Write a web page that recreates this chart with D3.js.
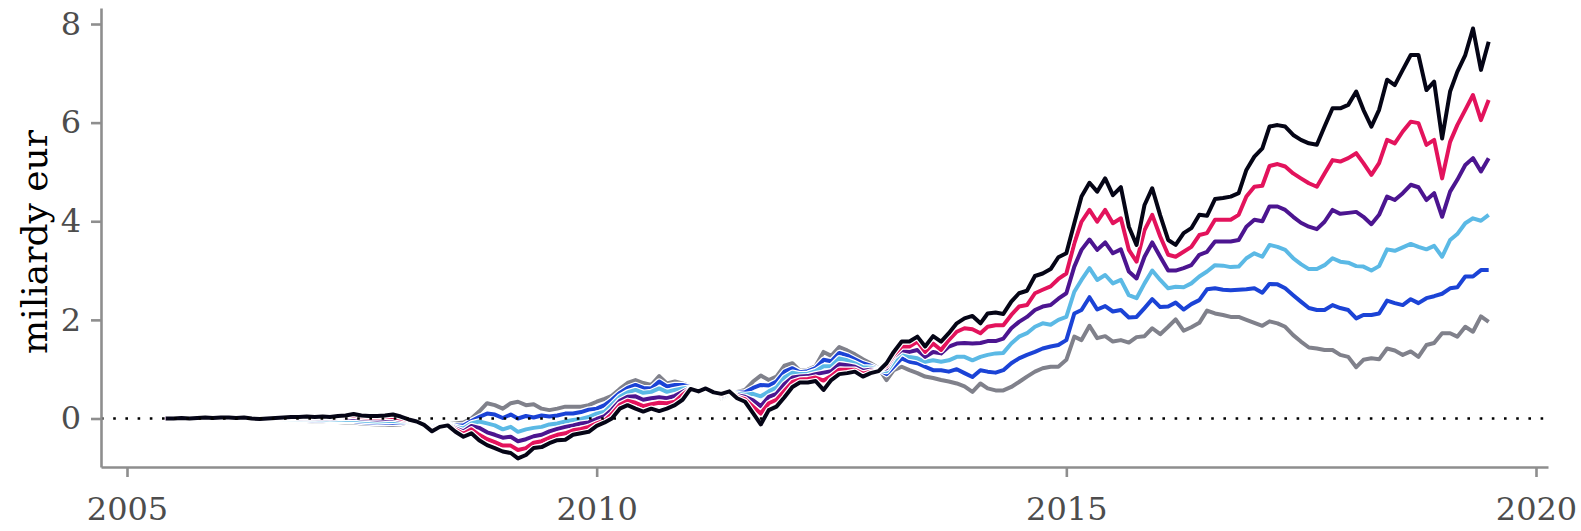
<!DOCTYPE html>
<html>
<head>
<meta charset="utf-8">
<script src="https://cdn.jsdelivr.net/npm/d3@7"></script>
<style>
  html, body { margin: 0; padding: 0; background: #fff; }
  svg { display: block; }
</style>
</head>
<body>
<div id="graph_content"></div>
<script>
// monthly values, Jun 2005 .. Jul 2019 (miliardy eur)
const startMonth = new Date(2005, 5, 1)
const endMonth = new Date(2019, 7, 1)
const months = d3.timeMonth.range(startMonth, endMonth)

const seriesGray = [
  0.00, 0.00, -0.01, -0.01, -0.01, -0.02, -0.02,
  -0.02, -0.02, -0.03, -0.03, -0.04, -0.04, -0.04, -0.04, -0.04, -0.05, -0.05, -0.05,
  -0.06, -0.06, -0.07, -0.07, -0.08, -0.08, -0.10, -0.11, -0.12, -0.12, -0.13, -0.12,
  -0.07, -0.09, -0.10, -0.16, -0.12, -0.10, -0.10, -0.08, 0.00, 0.14, 0.31, 0.27,
  0.20, 0.31, 0.34, 0.27, 0.29, 0.20, 0.17, 0.20, 0.24, 0.24, 0.24, 0.27,
  0.34, 0.40, 0.46, 0.60, 0.72, 0.78, 0.72, 0.68, 0.86, 0.71, 0.75, 0.71,
  0.65, 0.58, 0.64, 0.54, 0.40, 0.48, 0.54, 0.58, 0.75, 0.87, 0.78, 0.85,
  1.07, 1.12, 0.97, 0.99, 1.06, 1.35, 1.27, 1.45, 1.38, 1.30, 1.20, 1.12,
  1.02, 0.78, 0.98, 1.05, 0.98, 0.92, 0.85, 0.82, 0.78, 0.75, 0.71, 0.65,
  0.54, 0.71, 0.61, 0.57, 0.57, 0.64, 0.74, 0.85, 0.95, 1.02, 1.05, 1.05,
  1.19, 1.66, 1.59, 1.88, 1.63, 1.67, 1.56, 1.59, 1.54, 1.65, 1.67, 1.83,
  1.71, 1.86, 2.01, 1.78, 1.85, 1.94, 2.19, 2.13, 2.10, 2.06, 2.06, 2.00,
  1.94, 1.88, 1.97, 1.93, 1.86, 1.69, 1.56, 1.44, 1.42, 1.39, 1.39, 1.29,
  1.25, 1.04, 1.19, 1.22, 1.20, 1.42, 1.38, 1.29, 1.36, 1.25, 1.49, 1.53,
  1.73, 1.73, 1.66, 1.86, 1.76, 2.07, 1.96
]
const seriesBlue = [
  0.00, 0.00, -0.01, -0.01, -0.01, -0.01, -0.01,
  -0.01, -0.02, -0.02, -0.02, -0.03, -0.03, -0.03, -0.03, -0.03, -0.03, -0.03, -0.03,
  -0.04, -0.04, -0.05, -0.04, -0.05, -0.05, -0.07, -0.08, -0.09, -0.08, -0.09, -0.09,
  -0.06, -0.08, -0.11, -0.18, -0.13, -0.11, -0.14, -0.14, -0.05, 0.03, 0.10, 0.08,
  0.01, 0.08, 0.00, 0.05, 0.02, 0.06, 0.04, 0.06, 0.10, 0.10, 0.13, 0.18,
  0.20, 0.27, 0.38, 0.52, 0.62, 0.68, 0.62, 0.61, 0.75, 0.65, 0.68, 0.68,
  0.64, 0.57, 0.63, 0.54, 0.42, 0.50, 0.52, 0.53, 0.62, 0.68, 0.67, 0.75,
  0.95, 1.02, 0.94, 0.96, 1.02, 1.19, 1.16, 1.33, 1.28, 1.20, 1.12, 1.07,
  1.00, 0.90, 1.05, 1.22, 1.15, 1.12, 1.05, 0.98, 0.98, 0.95, 1.00, 0.92,
  0.84, 0.98, 0.95, 0.93, 0.98, 1.12, 1.22, 1.29, 1.35, 1.42, 1.46, 1.49,
  1.59, 2.13, 2.20, 2.46, 2.21, 2.28, 2.17, 2.20, 2.05, 2.06, 2.24, 2.42,
  2.26, 2.27, 2.35, 2.21, 2.32, 2.40, 2.62, 2.64, 2.61, 2.60, 2.61, 2.62,
  2.64, 2.55, 2.73, 2.72, 2.64, 2.50, 2.37, 2.24, 2.20, 2.20, 2.30, 2.24,
  2.20, 2.03, 2.10, 2.10, 2.13, 2.39, 2.34, 2.30, 2.42, 2.34, 2.44, 2.48,
  2.53, 2.64, 2.66, 2.88, 2.88, 3.01, 3.01
]
const seriesLightBlue = [
  0.00, 0.00, 0.00, -0.01, 0.00, -0.01, -0.01,
  -0.01, -0.01, -0.01, -0.01, -0.02, -0.02, -0.02, -0.02, -0.01, -0.02, -0.02, -0.01,
  -0.02, -0.02, -0.03, -0.02, -0.03, -0.02, -0.04, -0.05, -0.06, -0.05, -0.05, -0.06,
  -0.05, -0.08, -0.11, -0.20, -0.14, -0.12, -0.17, -0.20, -0.10, -0.06, -0.10, -0.14,
  -0.22, -0.17, -0.27, -0.22, -0.19, -0.17, -0.12, -0.10, -0.06, -0.03, -0.01, 0.03,
  0.10, 0.14, 0.28, 0.44, 0.53, 0.58, 0.52, 0.54, 0.61, 0.54, 0.58, 0.61,
  0.63, 0.57, 0.62, 0.54, 0.44, 0.51, 0.50, 0.48, 0.50, 0.45, 0.55, 0.63,
  0.83, 0.93, 0.90, 0.91, 0.96, 1.06, 1.06, 1.22, 1.18, 1.12, 1.04, 1.03,
  0.99, 0.96, 1.15, 1.35, 1.25, 1.22, 1.15, 1.18, 1.15, 1.18, 1.25, 1.25,
  1.18, 1.25, 1.29, 1.32, 1.33, 1.52, 1.66, 1.73, 1.86, 1.93, 1.90, 2.00,
  2.06, 2.57, 2.81, 3.05, 2.81, 2.91, 2.74, 2.81, 2.50, 2.44, 2.74, 3.00,
  2.81, 2.64, 2.67, 2.66, 2.74, 2.88, 2.98, 3.11, 3.10, 3.07, 3.08, 3.25,
  3.35, 3.28, 3.52, 3.48, 3.42, 3.25, 3.13, 3.03, 3.03, 3.11, 3.25, 3.18,
  3.16, 3.09, 3.08, 3.00, 3.09, 3.43, 3.40, 3.47, 3.54, 3.48, 3.43, 3.50,
  3.28, 3.62, 3.74, 3.96, 4.06, 4.01, 4.13
]
const seriesPurple = [
  0.00, 0.00, 0.00, 0.00, 0.00, 0.00, 0.00,
  0.00, 0.00, -0.01, 0.00, -0.01, -0.01, -0.01, -0.01, 0.00, 0.00, 0.00, 0.01,
  0.00, 0.01, 0.00, 0.01, 0.01, 0.02, 0.00, -0.01, -0.02, -0.01, 0.00, -0.03,
  -0.04, -0.07, -0.12, -0.22, -0.15, -0.12, -0.20, -0.26, -0.15, -0.19, -0.28, -0.33,
  -0.39, -0.37, -0.46, -0.42, -0.36, -0.33, -0.26, -0.21, -0.17, -0.14, -0.10, -0.08,
  -0.01, 0.05, 0.18, 0.36, 0.44, 0.45, 0.38, 0.41, 0.43, 0.41, 0.46, 0.54,
  0.62, 0.56, 0.62, 0.53, 0.46, 0.53, 0.47, 0.44, 0.37, 0.25, 0.44, 0.50,
  0.70, 0.83, 0.85, 0.86, 0.90, 0.93, 0.96, 1.10, 1.08, 1.05, 0.97, 0.99,
  0.98, 1.02, 1.25, 1.39, 1.35, 1.39, 1.25, 1.35, 1.32, 1.46, 1.52, 1.53,
  1.52, 1.53, 1.57, 1.57, 1.62, 1.83, 1.96, 2.06, 2.20, 2.27, 2.30, 2.43,
  2.54, 3.08, 3.42, 3.63, 3.42, 3.57, 3.35, 3.43, 2.98, 2.84, 3.28, 3.57,
  3.28, 3.00, 3.00, 3.05, 3.11, 3.32, 3.38, 3.59, 3.59, 3.59, 3.62, 3.89,
  4.03, 4.00, 4.30, 4.30, 4.23, 4.09, 3.97, 3.89, 3.84, 3.99, 4.23, 4.15,
  4.17, 4.19, 4.09, 3.94, 4.13, 4.50, 4.43, 4.57, 4.74, 4.69, 4.43, 4.57,
  4.09, 4.60, 4.84, 5.14, 5.28, 5.01, 5.28
]
const seriesPink = [
  0.00, 0.00, 0.00, 0.00, 0.01, 0.01, 0.00,
  0.01, 0.01, 0.00, 0.01, -0.01, -0.01, -0.01, 0.00, 0.01, 0.01, 0.02, 0.02,
  0.02, 0.03, 0.02, 0.03, 0.04, 0.06, 0.03, 0.02, 0.02, 0.03, 0.03, 0.00,
  -0.03, -0.07, -0.12, -0.24, -0.16, -0.13, -0.23, -0.31, -0.22, -0.33, -0.42, -0.48,
  -0.55, -0.55, -0.64, -0.60, -0.49, -0.46, -0.39, -0.33, -0.30, -0.24, -0.21, -0.17,
  -0.10, -0.04, 0.09, 0.28, 0.36, 0.32, 0.25, 0.29, 0.32, 0.31, 0.34, 0.48,
  0.61, 0.56, 0.61, 0.53, 0.48, 0.54, 0.44, 0.39, 0.24, 0.10, 0.31, 0.38,
  0.56, 0.74, 0.79, 0.80, 0.83, 0.77, 0.86, 0.99, 0.99, 0.99, 0.91, 0.95,
  0.97, 1.07, 1.29, 1.46, 1.46, 1.56, 1.35, 1.52, 1.39, 1.59, 1.76, 1.83,
  1.81, 1.73, 1.86, 1.89, 1.89, 2.10, 2.27, 2.30, 2.54, 2.61, 2.68, 2.83,
  2.94, 3.55, 3.99, 4.23, 3.99, 4.23, 3.96, 4.06, 3.42, 3.18, 3.82, 4.13,
  3.69, 3.32, 3.28, 3.38, 3.48, 3.72, 3.76, 4.03, 4.03, 4.03, 4.13, 4.50,
  4.70, 4.72, 5.12, 5.16, 5.11, 4.97, 4.87, 4.77, 4.70, 4.97, 5.24, 5.21,
  5.28, 5.38, 5.18, 4.94, 5.18, 5.65, 5.58, 5.82, 6.02, 5.99, 5.55, 5.65,
  4.87, 5.61, 5.95, 6.26, 6.56, 6.05, 6.46
]
const seriesBlack = [
  0.00, 0.00, 0.01, 0.00, 0.01, 0.02, 0.01,
  0.02, 0.02, 0.01, 0.02, 0.00, -0.01, 0.00, 0.01, 0.02, 0.03, 0.03, 0.04,
  0.03, 0.04, 0.03, 0.05, 0.06, 0.09, 0.06, 0.05, 0.05, 0.06, 0.08, 0.04,
  -0.02, -0.06, -0.13, -0.26, -0.17, -0.14, -0.27, -0.37, -0.30, -0.44, -0.54, -0.60,
  -0.67, -0.70, -0.81, -0.74, -0.60, -0.58, -0.50, -0.44, -0.43, -0.33, -0.30, -0.27,
  -0.15, -0.08, 0.00, 0.20, 0.27, 0.20, 0.14, 0.20, 0.15, 0.20, 0.27, 0.38,
  0.60, 0.55, 0.61, 0.53, 0.50, 0.55, 0.41, 0.34, 0.11, -0.12, 0.17, 0.24,
  0.43, 0.64, 0.73, 0.73, 0.76, 0.58, 0.78, 0.90, 0.92, 0.95, 0.85, 0.92,
  0.96, 1.12, 1.35, 1.56, 1.56, 1.66, 1.46, 1.67, 1.56, 1.73, 1.93, 2.03,
  2.08, 1.93, 2.13, 2.15, 2.12, 2.37, 2.54, 2.59, 2.89, 2.94, 3.03, 3.27,
  3.35, 3.96, 4.50, 4.78, 4.60, 4.87, 4.53, 4.69, 3.89, 3.52, 4.33, 4.67,
  4.12, 3.62, 3.52, 3.76, 3.86, 4.13, 4.11, 4.45, 4.47, 4.50, 4.57, 5.04,
  5.31, 5.48, 5.92, 5.95, 5.92, 5.75, 5.65, 5.58, 5.55, 5.92, 6.29, 6.29,
  6.36, 6.63, 6.26, 5.92, 6.26, 6.87, 6.76, 7.07, 7.37, 7.37, 6.66, 6.83,
  5.68, 6.63, 7.03, 7.37, 7.91, 7.07, 7.64
]

const yTicks = [0, 2, 4, 6, 8]
const xTicks = [2005, 2010, 2015, 2020]
const yTitle = "miliardy eur"

// drawing order: first one at the bottom
const seriesList = [
  { values: seriesGray, color: "#80818b" },
  { values: seriesBlue, color: "#1b43d6" },
  { values: seriesLightBlue, color: "#5bb9e5" },
  { values: seriesPurple, color: "#4c1590" },
  { values: seriesPink, color: "#e3135c" },
  { values: seriesBlack, color: "#050516" }
]

const canvasWidth = 1581
const canvasHeight = 531
const axisColor = "#8e8e8e"
const fontFamily = "'DejaVu Serif', serif"

// scales: ticks sit at 2005 -> 127px, 2020 -> 1536px, 0 -> 418.5px, 8 -> 24px
const xTickScale = d3.scaleTime()
  .domain([new Date(2005, 0, 1), new Date(2020, 0, 1)])
  .range([127, 1536])
const x = xTickScale.copy()
  .domain([xTickScale.invert(101), xTickScale.invert(1548)])
  .range([101, 1548])

const yTickScale = d3.scaleLinear().domain([0, 8]).range([418.5, 24])
const y = yTickScale.copy()
  .domain([yTickScale.invert(467), yTickScale.invert(8)])
  .range([467, 8])

const svg = d3.select("#graph_content")
  .append("svg")
  .attr("xmlns", "http://www.w3.org/2000/svg")
  .attr("width", canvasWidth)
  .attr("height", canvasHeight)
  .attr("viewBox", `0 0 ${canvasWidth} ${canvasHeight}`)
  .style("background-color", "#ffffff")

const line = d3.line()
  .x((d, i) => x(months[i]))
  .y(d => y(d))

// each line gets a thin white halo under it
const lines = svg.append("g")
seriesList.forEach(s => {
  const vals = s.values.slice(0, months.length)
  lines.append("path")
    .attr("d", line(vals))
    .attr("fill", "none")
    .attr("stroke", "#ffffff")
    .attr("stroke-width", 6.4)
    .attr("stroke-linejoin", "round")
  lines.append("path")
    .attr("d", line(vals))
    .attr("fill", "none")
    .attr("stroke", s.color)
    .attr("stroke-width", 4)
    .attr("stroke-linejoin", "round")
    .attr("stroke-linecap", "butt")
})

// dotted zero line
svg.append("line")
  .attr("x1", x.range()[0])
  .attr("x2", x.range()[1])
  .attr("y1", y(0))
  .attr("y2", y(0))
  .attr("stroke", "#000000")
  .attr("stroke-width", 2.6)
  .attr("stroke-dasharray", "2.6 9.6")

// axes
svg.append("g")
  .attr("transform", `translate(0, ${y.range()[0]})`)
  .call(d3.axisBottom(x)
    .tickValues(xTicks.map(yr => new Date(yr, 0, 1)))
    .tickFormat(d3.timeFormat("%Y"))
    .tickSize(10)
    .tickSizeOuter(0)
    .tickPadding(20))

svg.append("g")
  .attr("transform", `translate(${x.range()[0]}, 0)`)
  .call(d3.axisLeft(y)
    .tickValues(yTicks)
    .tickFormat(d3.format("d"))
    .tickSize(10)
    .tickSizeOuter(0)
    .tickPadding(10))

svg.selectAll(".domain, .tick line")
  .attr("stroke", axisColor)
  .attr("stroke-width", 2.6)
svg.selectAll(".tick text")
  .attr("font-family", fontFamily)
  .attr("font-size", 32)
  .attr("fill", "#4d4d4d")

// axis title
svg.append("text")
  .text(yTitle)
  .attr("transform", `translate(47, 242) rotate(-90)`)
  .attr("text-anchor", "middle")
  .attr("font-family", fontFamily)
  .attr("font-size", 36)
  .attr("fill", "#000000")
</script>
</body>
</html>
